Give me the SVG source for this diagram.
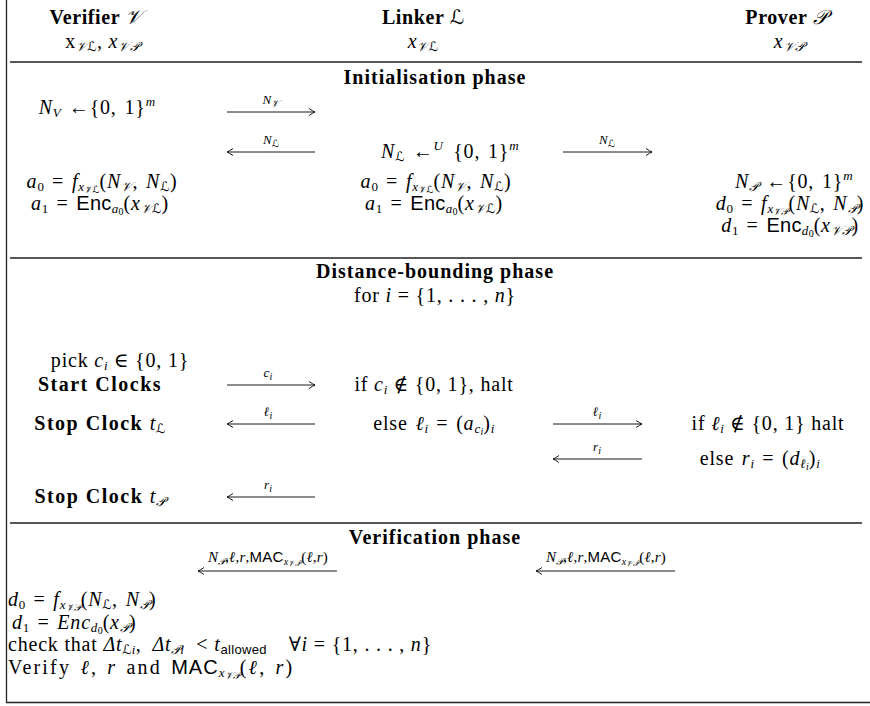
<svg xmlns="http://www.w3.org/2000/svg" width="870" height="706" viewBox="0 0 870 706">
<defs>
<style>
.t{font-family:"Liberation Serif","DejaVu Serif",serif;font-size:20px;letter-spacing:0.8px;fill:#000}
.h{font-family:"Liberation Serif","DejaVu Serif",serif;font-size:20px;font-weight:bold;letter-spacing:1px;fill:#000}
.b{font-weight:bold;letter-spacing:1.5px}
.hd{font-weight:bold;letter-spacing:0.6px}
.m{word-spacing:2px}
.wide{letter-spacing:2.2px;word-spacing:2px}
.i{font-style:italic}
.n{font-weight:normal;letter-spacing:0.8px}
.sf{font-family:"Liberation Sans","DejaVu Sans",sans-serif;font-style:normal;letter-spacing:0.3px}
.c{font-family:"DejaVu Serif","DejaVu Sans","Noto Sans",serif;font-style:italic;letter-spacing:0}
.sub{font-size:13px;letter-spacing:0.3px}
.ss{font-size:10px;letter-spacing:0}
.lab{font-size:13px;letter-spacing:0.2px;word-spacing:0}
.lab2{font-size:15px;letter-spacing:0.2px;word-spacing:0}
.rule{stroke:#222;stroke-width:1.3;fill:none}
.arr{stroke:#000;stroke-width:0.9;fill:none;marker-end:url(#ah)}
</style>
<marker id="ah" viewBox="-8 -5 10 10" refX="0" refY="0" markerWidth="10" markerHeight="10" markerUnits="userSpaceOnUse" orient="auto">
<path d="M-6,-3.5 Q-2,-0.8 0,0 Q-2,0.8 -6,3.5" fill="none" stroke="#000" stroke-width="0.9"/>
</marker>
</defs>
<rect width="870" height="706" fill="#fff"/>
<g id="frame">
<path class="rule" d="M6.5,0 V702.5 H870"/>
<path class="rule" d="M10,62 H862 M10,258 H862 M10,523 H862"/>
</g>
<g id="header">
<g id="verifier">
<text class="t hd" x="96" y="24" text-anchor="middle">Verifier <tspan class="c n">𝒱</tspan></text>
<text class="t" x="102" y="48" text-anchor="middle">x<tspan class="sub c" baseline-shift="-3">𝒱ℒ</tspan>, <tspan class="i">x</tspan><tspan class="sub c" baseline-shift="-3">𝒱𝒫</tspan></text>
</g>
<g id="linker">
<text class="t hd" x="423" y="24" text-anchor="middle">Linker <tspan class="c n">ℒ</tspan></text>
<text class="t" x="423" y="48" text-anchor="middle"><tspan class="i">x</tspan><tspan class="sub c" baseline-shift="-3">𝒱ℒ</tspan></text>
</g>
<g id="prover">
<text class="t hd" x="786" y="24" text-anchor="middle">Prover <tspan class="c n">𝒫</tspan></text>
<text class="t" x="789" y="48" text-anchor="middle"><tspan class="i">x</tspan><tspan class="sub c" baseline-shift="-3">𝒱𝒫</tspan></text>
</g>
</g>
<g id="init">
<text class="h" x="435" y="84" text-anchor="middle">Initialisation phase</text>
<g id="init-verifier">
<text class="t m" x="97" y="114" text-anchor="middle"><tspan class="i">N</tspan><tspan class="sub i" baseline-shift="-3">V</tspan> ←{0, 1}<tspan class="sub i" baseline-shift="8">m</tspan></text>
<text class="t m" x="102" y="188" text-anchor="middle"><tspan class="i">a</tspan><tspan class="sub" baseline-shift="-3">0</tspan> = <tspan class="i">f</tspan><tspan class="sub i" baseline-shift="-3">x<tspan class="ss c" baseline-shift="-2">𝒱ℒ</tspan></tspan>(<tspan class="i">N</tspan><tspan class="sub c" baseline-shift="-3">𝒱</tspan>, <tspan class="i">N</tspan><tspan class="sub c" baseline-shift="-3">ℒ</tspan>)</text>
<text class="t m" x="100" y="210" text-anchor="middle"><tspan class="i">a</tspan><tspan class="sub" baseline-shift="-3">1</tspan> = <tspan class="sf">Enc</tspan><tspan class="sub i" baseline-shift="-3">a<tspan class="ss" font-style="normal" baseline-shift="-2">0</tspan></tspan>(<tspan class="i">x</tspan><tspan class="sub c" baseline-shift="-3">𝒱ℒ</tspan>)</text>
</g>
<g id="init-linker">
<text class="t m" x="450" y="158" text-anchor="middle"><tspan class="i">N</tspan><tspan class="sub c" baseline-shift="-3">ℒ</tspan> ←<tspan class="sub i" baseline-shift="8">U</tspan><tspan dx="10">{0, 1}</tspan><tspan class="sub i" baseline-shift="8">m</tspan></text>
<text class="t m" x="436" y="188" text-anchor="middle"><tspan class="i">a</tspan><tspan class="sub" baseline-shift="-3">0</tspan> = <tspan class="i">f</tspan><tspan class="sub i" baseline-shift="-3">x<tspan class="ss c" baseline-shift="-2">𝒱ℒ</tspan></tspan>(<tspan class="i">N</tspan><tspan class="sub c" baseline-shift="-3">𝒱</tspan>, <tspan class="i">N</tspan><tspan class="sub c" baseline-shift="-3">ℒ</tspan>)</text>
<text class="t m" x="434" y="210" text-anchor="middle"><tspan class="i">a</tspan><tspan class="sub" baseline-shift="-3">1</tspan> = <tspan class="sf">Enc</tspan><tspan class="sub i" baseline-shift="-3">a<tspan class="ss" font-style="normal" baseline-shift="-2">0</tspan></tspan>(<tspan class="i">x</tspan><tspan class="sub c" baseline-shift="-3">𝒱ℒ</tspan>)</text>
</g>
<g id="init-prover">
<text class="t m" x="794" y="188" text-anchor="middle"><tspan class="i">N</tspan><tspan class="sub c" baseline-shift="-3">𝒫</tspan> ←{0, 1}<tspan class="sub i" baseline-shift="8">m</tspan></text>
<text class="t m" x="790" y="210" text-anchor="middle"><tspan class="i">d</tspan><tspan class="sub" baseline-shift="-3">0</tspan> = <tspan class="i">f</tspan><tspan class="sub i" baseline-shift="-3">x<tspan class="ss c" baseline-shift="-2">𝒱𝒫</tspan></tspan>(<tspan class="i">N</tspan><tspan class="sub c" baseline-shift="-3">ℒ</tspan>, <tspan class="i">N</tspan><tspan class="sub c" baseline-shift="-3">𝒫</tspan>)</text>
<text class="t m" x="790" y="232" text-anchor="middle"><tspan class="i">d</tspan><tspan class="sub" baseline-shift="-3">1</tspan> = <tspan class="sf">Enc</tspan><tspan class="sub i" baseline-shift="-3">d<tspan class="ss" font-style="normal" baseline-shift="-2">0</tspan></tspan>(<tspan class="i">x</tspan><tspan class="sub c" baseline-shift="-3">𝒱𝒫</tspan>)</text>
</g>
</g>
<g id="db">
<text class="h" x="435" y="278" text-anchor="middle">Distance-bounding phase</text>
<text class="t" x="435" y="302" text-anchor="middle">for <tspan class="i">i</tspan> = {1, . . . , <tspan class="i">n</tspan>}</text>
<g id="db-verifier">
<text class="t" x="120" y="367" text-anchor="middle">pick <tspan class="i">c</tspan><tspan class="sub i" baseline-shift="-3">i</tspan> ∈ {0, 1}</text>
<text class="t b" x="100" y="391" text-anchor="middle">Start Clocks</text>
<text class="t b" x="100" y="430" text-anchor="middle">Stop Clock <tspan class="i n">t</tspan><tspan class="sub c n" baseline-shift="-3">ℒ</tspan></text>
<text class="t b" x="100" y="503" text-anchor="middle">Stop Clock <tspan class="i n">t</tspan><tspan class="sub c n" baseline-shift="-3">𝒫</tspan></text>
</g>
<g id="db-linker">
<text class="t" x="434" y="391" text-anchor="middle">if <tspan class="i">c</tspan><tspan class="sub i" baseline-shift="-3">i</tspan> ∉ {0, 1}, halt</text>
<text class="t m" x="434" y="430" text-anchor="middle">else <tspan class="i">ℓ</tspan><tspan class="sub i" baseline-shift="-3">i</tspan> = (<tspan class="i">a</tspan><tspan class="sub i" baseline-shift="-3">c<tspan class="ss" baseline-shift="-2">i</tspan></tspan>)<tspan class="sub i" baseline-shift="-3">i</tspan></text>
</g>
<g id="db-prover">
<text class="t" x="768" y="430" text-anchor="middle">if <tspan class="i">ℓ</tspan><tspan class="sub i" baseline-shift="-3">i</tspan> ∉ {0, 1} halt</text>
<text class="t m" x="760" y="465" text-anchor="middle">else <tspan class="i">r</tspan><tspan class="sub i" baseline-shift="-3">i</tspan> = (<tspan class="i">d</tspan><tspan class="sub i" baseline-shift="-3">ℓ<tspan class="ss" baseline-shift="-2">i</tspan></tspan>)<tspan class="sub i" baseline-shift="-3">i</tspan></text>
</g>
</g>
<g id="verif">
<text class="h" x="435" y="544" text-anchor="middle">Verification phase</text>
<g id="verif-verifier">
<text class="t m" x="8" y="606"><tspan class="i">d</tspan><tspan class="sub" baseline-shift="-3">0</tspan> = <tspan class="i">f</tspan><tspan class="sub i" baseline-shift="-3">x<tspan class="ss c" baseline-shift="-2">𝒱𝒫</tspan></tspan>(<tspan class="i">N</tspan><tspan class="sub c" baseline-shift="-3">ℒ</tspan>, <tspan class="i">N</tspan><tspan class="sub c" baseline-shift="-3">𝒫</tspan>)</text>
<text class="t m" x="12" y="629"><tspan class="i">d</tspan><tspan class="sub" baseline-shift="-3">1</tspan> = <tspan class="i">Enc</tspan><tspan class="sub i" baseline-shift="-3">d<tspan class="ss" font-style="normal" baseline-shift="-2">0</tspan></tspan>(<tspan class="i">x</tspan><tspan class="sub c" baseline-shift="-3">𝒫</tspan>)</text>
<text class="t" x="8" y="651">check that <tspan class="i">Δt</tspan><tspan class="sub" baseline-shift="-3"><tspan class="c">ℒ</tspan><tspan class="i">i</tspan></tspan>,<tspan dx="11" class="i">Δt</tspan><tspan class="sub" baseline-shift="-3"><tspan class="c">𝒫</tspan><tspan class="i">i</tspan></tspan><tspan dx="12">&lt;</tspan> <tspan class="i">t</tspan><tspan class="sub sf" baseline-shift="-3">allowed</tspan><tspan dx="22">∀</tspan><tspan class="i">i</tspan> = {1, . . . , <tspan class="i">n</tspan>}</text>
<text class="t wide" x="8" y="674">Verify <tspan class="i">ℓ</tspan>, <tspan class="i">r</tspan> and <tspan class="sf" style="letter-spacing:1px">MAC</tspan><tspan class="sub i" baseline-shift="-3">x<tspan class="ss c" baseline-shift="-2">𝒱𝒫</tspan></tspan>(<tspan class="i">ℓ</tspan>, <tspan class="i">r</tspan>)</text>
</g>
</g>
<g id="connectors">
<path class="arr" d="M227,112 H315"/>
<path class="arr" d="M315,152 H227"/>
<path class="arr" d="M563,152 H652"/>
<path class="arr" d="M227,385 H315"/>
<path class="arr" d="M315,424 H227"/>
<path class="arr" d="M553,424 H642"/>
<path class="arr" d="M642,459 H553"/>
<path class="arr" d="M315,497 H227"/>
<path class="arr" d="M337,571 H198"/>
<path class="arr" d="M675,571 H536"/>
<g id="labels">
<text class="t lab" x="271" y="104" text-anchor="middle"><tspan class="i">N</tspan><tspan class="ss c" baseline-shift="-3">𝒱</tspan></text>
<text class="t lab" x="271" y="144" text-anchor="middle"><tspan class="i">N</tspan><tspan class="ss c" baseline-shift="-3">ℒ</tspan></text>
<text class="t lab" x="607" y="144" text-anchor="middle"><tspan class="i">N</tspan><tspan class="ss c" baseline-shift="-3">ℒ</tspan></text>
<text class="t lab i" x="268" y="377" text-anchor="middle">c<tspan class="ss" baseline-shift="-3">i</tspan></text>
<text class="t lab i" x="268" y="416" text-anchor="middle">ℓ<tspan class="ss" baseline-shift="-3">i</tspan></text>
<text class="t lab i" x="597" y="416" text-anchor="middle">ℓ<tspan class="ss" baseline-shift="-3">i</tspan></text>
<text class="t lab i" x="597" y="451" text-anchor="middle">r<tspan class="ss" baseline-shift="-3">i</tspan></text>
<text class="t lab i" x="268" y="489" text-anchor="middle">r<tspan class="ss" baseline-shift="-3">i</tspan></text>
<text class="t lab2" x="268" y="562" text-anchor="middle"><tspan class="i">N</tspan><tspan class="ss c" baseline-shift="-3">𝒫</tspan>,<tspan class="i">ℓ</tspan>,<tspan class="i">r</tspan>,<tspan class="sf">MAC</tspan><tspan class="ss i" baseline-shift="-3">x<tspan class="c" font-size="8px" baseline-shift="-1">𝒱𝒫</tspan></tspan>(<tspan class="i">ℓ</tspan>,<tspan class="i">r</tspan>)</text>
<text class="t lab2" x="606" y="562" text-anchor="middle"><tspan class="i">N</tspan><tspan class="ss c" baseline-shift="-3">𝒫</tspan>,<tspan class="i">ℓ</tspan>,<tspan class="i">r</tspan>,<tspan class="sf">MAC</tspan><tspan class="ss i" baseline-shift="-3">x<tspan class="c" font-size="8px" baseline-shift="-1">𝒱𝒫</tspan></tspan>(<tspan class="i">ℓ</tspan>,<tspan class="i">r</tspan>)</text>
</g>
</g>
</svg>
